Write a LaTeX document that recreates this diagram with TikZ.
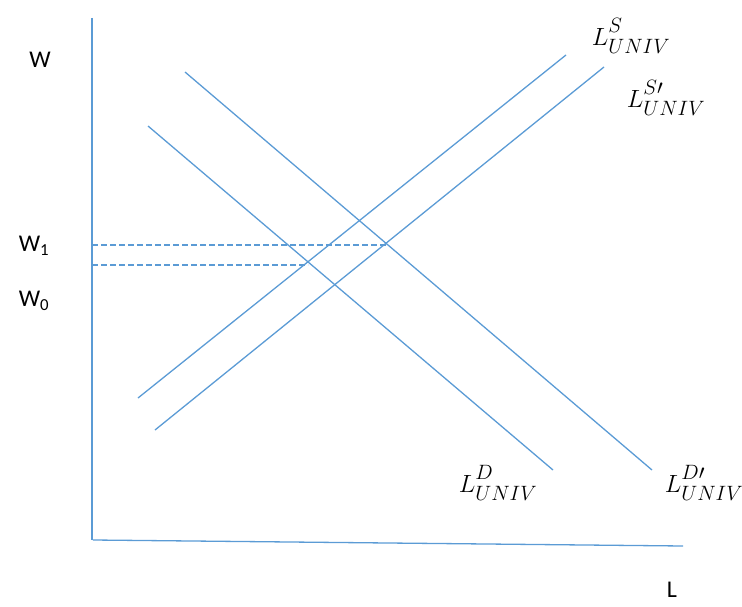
\documentclass[tikz,border=0pt]{standalone}
\usepackage{fontspec}
\setmainfont{Carlito}
\DeclareMathSizes{26}{26}{20}{15}
\newcommand{\supsub}[2]{$L^{\raisebox{3pt}{$\scriptstyle #1$}}_{\raisebox{-2pt}{$\scriptstyle #2$}}$}
\definecolor{lineblue}{RGB}{91,155,213}
\tikzset{
  curve/.style={draw=lineblue, line width=1.3pt},
  guide/.style={draw=lineblue, line width=1.2pt, dashed, dash pattern=on 6pt off 3pt},
  axislbl/.style={font=\fontsize{24}{28}\selectfont, inner sep=0pt},
  mathlbl/.style={font=\fontsize{26}{30}\selectfont, inner sep=0pt}
}
\begin{document}
\begin{tikzpicture}[x=1pt,y=-1pt]
\useasboundingbox (0,0) rectangle (742,607);
% axes
\coordinate (ytop) at (92,18);
\coordinate (origin) at (92,540);
\coordinate (xstart) at (93,540);
\coordinate (xend) at (683,546);
\draw[curve] (ytop) -- (origin);
\draw[curve] (xstart) -- (xend);
% curves
\coordinate (d1) at (148,126); \coordinate (d2) at (553,470);
\coordinate (dp1) at (185,72); \coordinate (dp2) at (652,470);
\coordinate (s1) at (138,398); \coordinate (s2) at (566,55);
\coordinate (sp1) at (155,430); \coordinate (sp2) at (604,67);
\draw[curve] (d1) -- (d2);
\draw[curve] (dp1) -- (dp2);
\draw[curve] (s1) -- (s2);
\draw[curve] (sp1) -- (sp2);
% equilibrium points and guides
\coordinate (e0) at (308,265);
\coordinate (e1) at (388,245);
\draw[guide] (e0 -| origin) -- (e0);
\draw[guide] (e1 -| origin) -- (e1);
% labels
\node[axislbl] (w) at (40,60) {W};
\node[axislbl] (w1) at (34,246) {W\textsubscript{1}};
\node[axislbl] (w0) at (34,301) {W\textsubscript{0}};
\node[axislbl] (l) at (672,590) {L};
\node[mathlbl] (ls) at (631,36) {\supsub{S}{UNIV}};
\node[mathlbl] (lsp) at (666,98) {\supsub{S\prime}{UNIV}};
\node[mathlbl] (ld) at (498,483) {\supsub{D}{UNIV}};
\node[mathlbl] (ldp) at (704,483) {\supsub{D\prime}{UNIV}};
\end{tikzpicture}
\end{document}
